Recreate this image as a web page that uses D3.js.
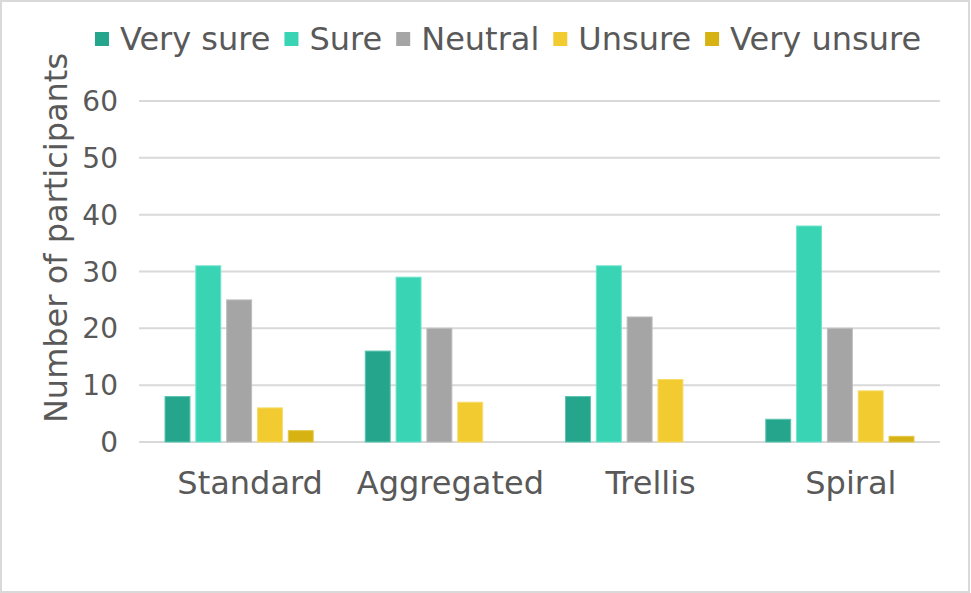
<!DOCTYPE html>
<html>
<head>
<meta charset="utf-8">
<script src="https://cdn.jsdelivr.net/npm/d3@7"></script>
<style>
  body { margin: 0; background: #fff; }
  svg { display: block; font-family: "DejaVu Sans", sans-serif; }
</style>
</head>
<body>
<div class="chart"></div>
<script>
// categories and series
var categories = ["Standard", "Aggregated", "Trellis", "Spiral"];
var series = ["Very sure", "Sure", "Neutral", "Unsure", "Very unsure"];
var colors = ["#25a68c", "#38d4b4", "#a5a5a5", "#f1cb2f", "#d6b212"];
var strokes = ["#5cc5b0", "#6fe3cb", "#bdbdbd", "#f7dc6c", "#e6c84c"];
var verySure = [8, 16, 8, 4];
var sure = [31, 29, 31, 38];
var neutral = [25, 20, 22, 20];
var unsure = [6, 7, 11, 9];
var veryUnsure = [2, 0, 0, 1];
var yTicks = [0, 10, 20, 30, 40, 50, 60];

var values = [verySure, sure, neutral, unsure, veryUnsure];

var width = 971, height = 593;
// plot area (note: "top" is reserved on window, so use own names)
var pLeft = 139, pRight = 940, pTop = 101, pBottom = 442;

var svg = d3.select("div.chart").append("svg")
    .attr("width", width)
    .attr("height", height);

// outer frame
svg.append("rect")
    .attr("x", 1).attr("y", 1)
    .attr("width", width - 3).attr("height", height - 2)
    .attr("fill", "white")
    .attr("stroke", "#d9d9d9")
    .attr("stroke-width", 2);

var y = d3.scaleLinear().domain([0, 60]).range([pBottom, pTop]);
var x0 = d3.scaleBand().domain(categories).range([pLeft, pRight]);
var x1 = d3.scaleBand().domain(series).range([26, x0.bandwidth() - 26]).paddingInner(0.19);

// gridlines
svg.append("g").selectAll("line")
    .data(yTicks)
    .enter().append("line")
    .attr("x1", pLeft).attr("x2", pRight)
    .attr("y1", d => y(d)).attr("y2", d => y(d))
    .attr("stroke", "#d9d9d9")
    .attr("stroke-width", 2);

// y tick labels
svg.append("g").selectAll("text")
    .data(yTicks)
    .enter().append("text")
    .attr("x", 118)
    .attr("y", d => y(d))
    .attr("dy", "0.36em")
    .attr("text-anchor", "end")
    .attr("fill", "#595959")
    .style("font-size", "28px")
    .text(d => d);

// y axis title
svg.append("text")
    .attr("transform", "translate(55," + 238 + ") rotate(-90)")
    .attr("text-anchor", "middle")
    .attr("dy", "0.36em")
    .attr("fill", "#595959")
    .style("font-size", "32px")
    .text("Number of participants");

// bars
var groups = svg.append("g").selectAll("g")
    .data(categories)
    .enter().append("g")
    .attr("transform", d => "translate(" + x0(d) + ",0)");

groups.selectAll("rect")
    .data((c, ci) => series.map((s, si) => ({ s: s, si: si, v: values[si][ci] })))
    .enter().append("rect")
    .filter(d => d.v > 0)
    .attr("x", d => x1(d.s))
    .attr("width", x1.bandwidth())
    .attr("y", d => y(d.v))
    .attr("height", d => y(0) - y(d.v))
    .attr("fill", d => colors[d.si])
    .attr("stroke", d => strokes[d.si])
    .attr("stroke-width", 1);

// category labels
svg.append("g").selectAll("text")
    .data(categories)
    .enter().append("text")
    .attr("x", d => x0(d) + x0.bandwidth() / 2 + 11)
    .attr("y", 494)
    .attr("text-anchor", "middle")
    .attr("fill", "#595959")
    .style("font-size", "32px")
    .text(d => d);

// legend
var legend = svg.append("g");
var lx = 95;
series.forEach(function(s, i) {
    legend.append("rect")
        .attr("x", lx).attr("y", 32)
        .attr("width", 14).attr("height", 14)
        .attr("fill", colors[i]);
    var t = legend.append("text")
        .attr("x", lx + 25)
        .attr("y", 50)
        .attr("fill", "#595959")
        .style("font-size", "32px")
        .text(s);
    lx += 25 + t.node().getComputedTextLength() + 14;
});
</script>
</body>
</html>
